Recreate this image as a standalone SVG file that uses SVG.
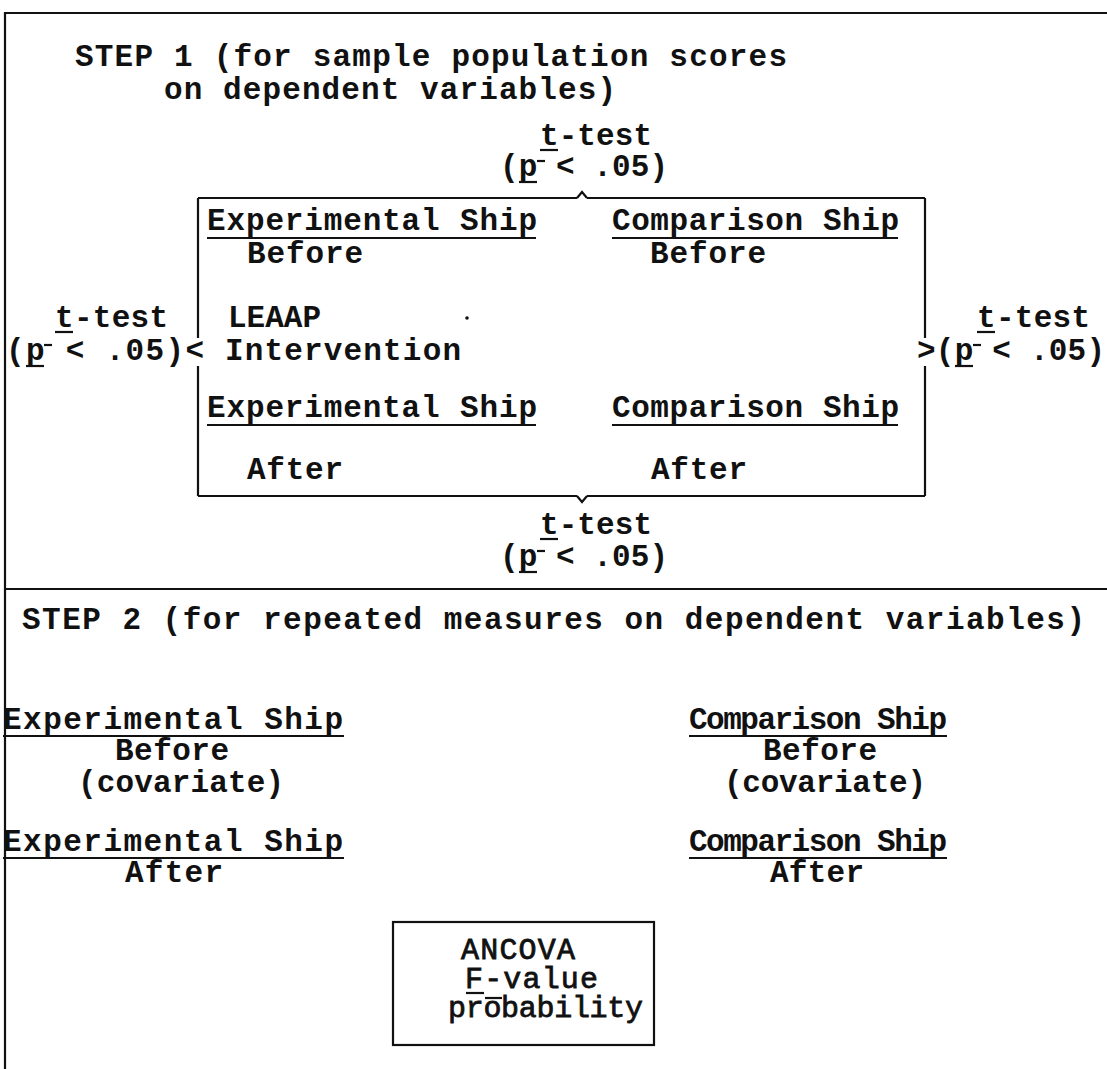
<svg xmlns="http://www.w3.org/2000/svg" width="1107" height="1069" viewBox="0 0 1107 1069">
<style>
.t{font-family:"Liberation Mono","Courier New",monospace;font-weight:bold;font-size:31px;fill:#111}
.a{font-family:"Liberation Mono","Courier New",monospace;font-size:30px;fill:#111;stroke:#111;stroke-width:0.8}
.ln{stroke:#111;stroke-width:2.2;fill:none}
.u{stroke:#111;stroke-width:2.2}
</style>
<rect width="1107" height="1069" fill="#fff"/>
<g id="frame">
<line class="ln" x1="4" y1="13" x2="1107" y2="13" stroke-width="3"/>
<line class="ln" x1="5" y1="12" x2="5" y2="1069"/>
<line class="ln" x1="4" y1="589" x2="1107" y2="589" stroke-width="3"/>
</g>
<g id="connectors">
<path class="ln" d="M198 198 H577 M587 198 H925"/>
<path class="ln" d="M577 198 L582 192 L587 198"/>
<path class="ln" d="M198 496 H577 M587 496 H925"/>
<path class="ln" d="M577 496 L582 502 L587 496"/>
<path class="ln" d="M198 198 V338 M198 366 V496"/>
<path class="ln" d="M925 198 V338 M925 366 V496"/>
</g>
<g id="step1-title">
<text class="t" x="75" y="66" textLength="712">STEP 1 (for sample population scores</text>
<text class="t" x="164" y="99" textLength="452">on dependent variables)</text>
</g>
<g id="ttest-top">
<text class="t" x="540" y="145" textLength="112">t-test</text>
<line class="u" x1="540" y1="150" x2="558" y2="150"/>
<text class="t" x="500" y="176" textLength="168">(p &lt; .05)</text>
<line class="u" x1="519" y1="182" x2="537" y2="182"/>
<line class="u" x1="537" y1="161" x2="545" y2="161"/>
</g>
<g id="ttest-left">
<text class="t" x="55" y="327" textLength="113">t-test</text>
<line class="u" x1="55" y1="332" x2="73" y2="332"/>
<text class="t" x="6" y="360" textLength="198">(p &lt; .05)&lt;</text>
<line class="u" x1="26" y1="366" x2="44" y2="366"/>
<line class="u" x1="44" y1="345" x2="52" y2="345"/>
</g>
<g id="ttest-right">
<text class="t" x="977" y="327" textLength="113">t-test</text>
<line class="u" x1="977" y1="332" x2="995" y2="332"/>
<text class="t" x="917" y="360" textLength="188">&gt;(p &lt; .05)</text>
<line class="u" x1="955" y1="366" x2="973" y2="366"/>
<line class="u" x1="973" y1="345" x2="981" y2="345"/>
</g>
<g id="ttest-bottom">
<text class="t" x="540" y="534" textLength="112">t-test</text>
<line class="u" x1="540" y1="539" x2="558" y2="539"/>
<text class="t" x="500" y="566" textLength="168">(p &lt; .05)</text>
<line class="u" x1="519" y1="572" x2="537" y2="572"/>
<line class="u" x1="537" y1="551" x2="545" y2="551"/>
</g>
<g id="exp-before">
<text class="t" x="207" y="230" textLength="330">Experimental Ship</text>
<line class="u" x1="207" y1="238" x2="536" y2="238"/>
<text class="t" x="247" y="263" textLength="116">Before</text>
</g>
<g id="comp-before">
<text class="t" x="612" y="230" textLength="287">Comparison Ship</text>
<line class="u" x1="612" y1="238" x2="898" y2="238"/>
<text class="t" x="650" y="263" textLength="116">Before</text>
</g>
<g id="intervention">
<text class="t" x="228" y="327">LEAAP</text>
<text class="t" x="225" y="360" textLength="236">Intervention</text>
<circle cx="467" cy="318" r="1.8" fill="#111"/>
</g>
<g id="exp-after">
<text class="t" x="207" y="417" textLength="330">Experimental Ship</text>
<line class="u" x1="207" y1="425" x2="536" y2="425"/>
<text class="t" x="247" y="479" textLength="96">After</text>
</g>
<g id="comp-after">
<text class="t" x="612" y="417" textLength="287">Comparison Ship</text>
<line class="u" x1="612" y1="425" x2="898" y2="425"/>
<text class="t" x="651" y="479" textLength="96">After</text>
</g>
<g id="step2-title">
<text class="t" x="22" y="629" textLength="1063">STEP 2 (for repeated measures on dependent variables)</text>
</g>
<g id="s2-exp-before">
<text class="t" x="3" y="729" textLength="340">Experimental Ship</text>
<line class="u" x1="3" y1="736" x2="344" y2="736"/>
<text class="t" x="115" y="760" textLength="114">Before</text>
<text class="t" x="78" y="792" textLength="206">(covariate)</text>
</g>
<g id="s2-comp-before">
<text class="t" x="689" y="729" textLength="258">Comparison Ship</text>
<line class="u" x1="689" y1="736" x2="947" y2="736"/>
<text class="t" x="763" y="760" textLength="114">Before</text>
<text class="t" x="724" y="792" textLength="202">(covariate)</text>
</g>
<g id="s2-exp-after">
<text class="t" x="3" y="851" textLength="340">Experimental Ship</text>
<line class="u" x1="3" y1="858" x2="344" y2="858"/>
<text class="t" x="125" y="882" textLength="98">After</text>
</g>
<g id="s2-comp-after">
<text class="t" x="689" y="851" textLength="258">Comparison Ship</text>
<line class="u" x1="689" y1="858" x2="947" y2="858"/>
<text class="t" x="770" y="882" textLength="94">After</text>
</g>
<g id="ancova">
<rect class="ln" x="393" y="922" width="261" height="123"/>
<text class="a" x="461" y="959" textLength="114">ANCOVA</text>
<text class="a" x="465" y="988" textLength="133">F-value</text>
<line class="u" x1="466" y1="993" x2="484" y2="993"/>
<text class="a" x="448" y="1017" textLength="195">probability</text>
<line class="u" x1="485" y1="998" x2="502" y2="998"/>
</g>
</svg>
